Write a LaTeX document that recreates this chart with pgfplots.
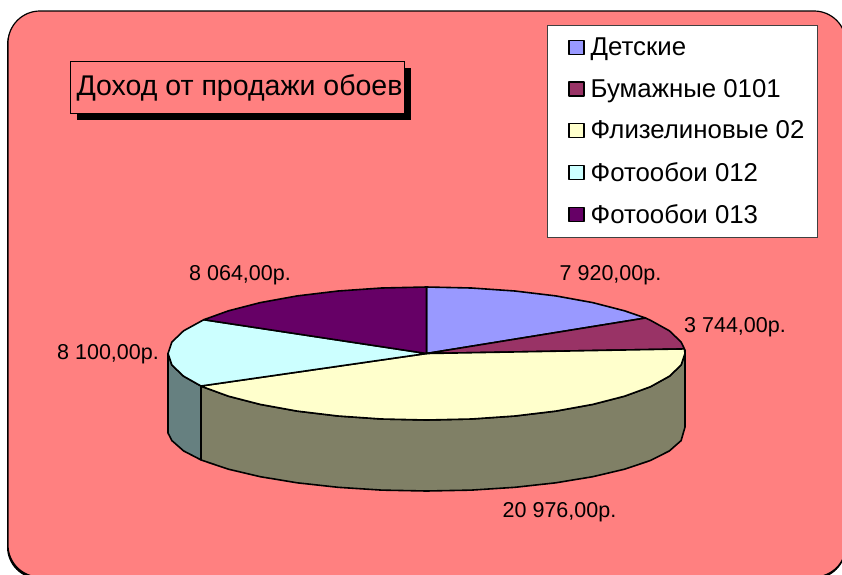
\documentclass[border=0pt]{standalone}
\usepackage{fontspec}
\setmainfont{Liberation Sans}
\usepackage{pgfplots}
\pgfplotsset{compat=1.18}
\definecolor{bgp}{HTML}{FF8080}
\definecolor{sa}{HTML}{9999FF}
\definecolor{sb}{HTML}{993366}
\definecolor{sc}{HTML}{FFFFCC}
\definecolor{sd}{HTML}{CCFFFF}
\definecolor{se}{HTML}{660066}
\definecolor{wc}{HTML}{808066}
\definecolor{wd}{HTML}{668080}
\begin{document}
\begin{tikzpicture}
\useasboundingbox (0pt,0pt) rectangle (842pt,574pt);
\begin{axis}[
  at={(0pt,0pt)}, anchor=south west,
  scale only axis, width=842pt, height=574pt,
  xmin=0, xmax=842, ymin=0, ymax=574, y dir=reverse,
  hide axis, clip=true,
  every axis plot/.append style={draw=black, line width=1.6pt, line join=round},
  legend image code/.code={\path (0pt,0pt) (29.5pt,0pt); \draw[#1,line width=1.2pt] (10.5pt,-7pt) rectangle (25.5pt,7pt);},
  legend cell align=left,
  legend style={at={(axis cs:546.7,25)}, anchor=north west, fill=white, draw=black!75, line width=0.8pt,
    font=\fontsize{25.8}{26}\selectfont, row sep=18pt, inner xsep=10.5pt, inner ysep=10.5pt},
]
% chart area
\fill[black] (axis cs:7,13) [rounded corners=32pt] rectangle (axis cs:846,579);
\draw[black, line width=1.2pt, fill=bgp, rounded corners=32pt] (axis cs:8,11) rectangle (axis cs:846,577);
% side walls
\addplot[fill=wd, forget plot] coordinates {(168,353.5) (171.9,365) (183.6,376.2) (201,386) (201,459.9) (183.6,450.9) (171.9,440.6) (168,433)} -- cycle;
\addplot[fill=wc, forget plot] coordinates {(685,350) (685,353.5) (681.1,365) (669.4,376.2) (650.4,386.75) (624.5,396.2) (592.7,404.4) (555.8,411.1) (514.9,416) (471.4,419) (426.5,420) (381.6,419) (338.1,416) (297.25,411.1) (260.3,404.4) (228.5,396.2) (202.6,386.75) (201,386) (201,459.9) (202.6,460.5) (228.5,469.2) (260.3,476.7) (297.25,482.8) (338.1,487.3) (381.6,490.1) (426.5,491) (471.4,490.1) (514.9,487.3) (555.8,482.8) (592.7,476.7) (624.5,469.2) (650.4,460.5) (669.4,450.9) (681.1,440.6) (685,427)} -- cycle;
% top slices
\addplot[fill=sa] coordinates {(426.5,353.5) (426.5,287) (471.4,288) (514.9,291) (555.8,295.9) (592.7,302.6) (624.5,310.8) (645.5,318)} -- cycle;
\addlegendentry{Детские}
\addplot[fill=sb] coordinates {(426.5,353.5) (645.5,318) (650.4,320.25) (669.4,330.8) (681.1,342) (684.4,348.9)} -- cycle;
\addlegendentry{Бумажные 0101}
\addplot[fill=sc] coordinates {(426.5,353.5) (684.4,348.9) (685,353.5) (681.1,365) (669.4,376.2) (650.4,386.75) (624.5,396.2) (592.7,404.4) (555.8,411.1) (514.9,416) (471.4,419) (426.5,420) (381.6,419) (338.1,416) (297.25,411.1) (260.3,404.4) (228.5,396.2) (202.6,386.75) (201,386)} -- cycle;
\addlegendentry{Флизелиновые 02}
\addplot[fill=sd] coordinates {(426.5,353.5) (201,386) (183.6,376.2) (171.9,365) (168,353.5) (171.9,342) (183.6,330.8) (203.8,319.7)} -- cycle;
\addlegendentry{Фотообои 012}
\addplot[fill=se] coordinates {(426.5,353.5) (203.8,319.7) (228.5,310.8) (260.3,302.6) (297.25,295.9) (338.1,291) (381.6,288) (426.5,287)} -- cycle;
\addlegendentry{Фотообои 013}
% data labels
\node[font=\fontsize{21.5}{24}\selectfont] at (axis cs:610.5,275) {7 920,00р.};
\node[font=\fontsize{21.5}{24}\selectfont] at (axis cs:735,327) {3 744,00р.};
\node[font=\fontsize{21.5}{24}\selectfont] at (axis cs:559.5,512) {20 976,00р.};
\node[font=\fontsize{21.5}{24}\selectfont] at (axis cs:108,354) {8 100,00р.};
\node[font=\fontsize{21.5}{24}\selectfont] at (axis cs:240,275) {8 064,00р.};
% title
\fill[black] (axis cs:77,68) rectangle (axis cs:411,120);
\draw[black, line width=0.8pt, fill=bgp] (axis cs:70,61) rectangle (axis cs:404,113);
\node[font=\fontsize{28.5}{30}\selectfont] at (axis cs:239.5,88) {Доход от продажи обоев};
\end{axis}
\end{tikzpicture}
\end{document}
